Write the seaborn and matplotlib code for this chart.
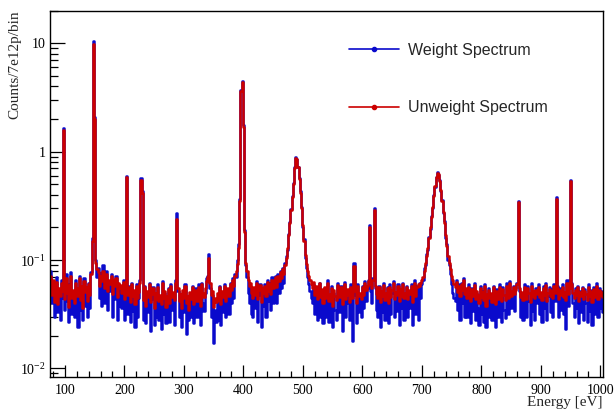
import numpy as np
import pandas as pd
import seaborn as sns
import matplotlib
matplotlib.use("Agg")
import matplotlib.pyplot as plt
from matplotlib.lines import Line2D
from matplotlib.ticker import FixedLocator, MultipleLocator, LogLocator, NullFormatter

# histogram: 2 eV bins from 75 to 1005 eV, contents in units of 1e-3 counts/7e12p/bin
bin_lo = 75
bin_width = 2

# Unweight spectrum (red), 10 bins per row = 20 eV per row
unweight = [
    72, 48, 66, 41, 58, 63, 39, 55, 47, 61,          # 75
    52, 1600, 44, 68, 50, 37, 59, 71, 45, 53,        # 95
    40, 62, 55, 47, 69, 43, 58, 36, 64, 51,          # 115
    57, 42, 60, 48, 75, 150, 9800, 2000, 95, 82,     # 135
    78, 58, 72, 64, 80, 55, 69, 74, 52, 66,          # 155
    60, 71, 49, 65, 58, 68, 46, 62, 55, 59,          # 175
    50, 63, 44, 57, 580, 48, 56, 41, 60, 47,         # 195
    53, 39, 58, 45, 51, 62, 550, 420, 43, 56,        # 215
    38, 52, 46, 60, 41, 49, 55, 36, 50, 44,          # 235
    57, 42, 48, 39, 61, 45, 52, 37, 47, 54,          # 255
    40, 58, 46, 51, 43, 62, 240, 55, 42, 49,         # 275
    36, 53, 45, 58, 40, 47, 35, 51, 44, 56,          # 295
    39, 48, 53, 42, 57, 45, 38, 60, 50, 46,          # 315
    55, 64, 70, 105, 62, 48, 52, 37, 45, 41,         # 335
    50, 43, 56, 39, 52, 46, 58, 42, 49, 55,          # 355
    47, 60, 53, 66, 58, 72, 80, 92, 130, 350,        # 375
    3600, 4400, 1700, 180, 95, 80, 66, 58, 62, 50,   # 395
    45, 57, 48, 62, 44, 53, 59, 41, 55, 50,          # 415
    58, 47, 63, 52, 60, 49, 66, 55, 61, 70,          # 435
    56, 72, 64, 78, 68, 82, 75, 90, 105, 130,        # 455
    170, 220, 290, 380, 500, 700, 880, 850, 720, 560,  # 475
    420, 300, 210, 150, 112, 92, 80, 72, 66, 60,     # 495
    55, 63, 48, 58, 44, 52, 61, 46, 54, 40,          # 515
    57, 45, 51, 62, 42, 49, 55, 38, 53, 47,          # 535
    43, 59, 50, 46, 56, 39, 52, 60, 44, 48,          # 555
    54, 41, 57, 49, 45, 89, 52, 40, 58, 47,          # 575
    50, 44, 56, 48, 61, 53, 58, 64, 200, 60,         # 595
    55, 66, 290, 58, 49, 45, 56, 41, 52, 47,         # 615
    59, 43, 50, 55, 40, 57, 46, 53, 61, 44,          # 635
    51, 48, 58, 42, 54, 47, 60, 45, 50, 56,          # 655
    44, 53, 49, 58, 41, 55, 62, 47, 57, 60,          # 675
    58, 62, 65, 70, 80, 95, 110, 130, 160, 200,      # 695
    250, 310, 390, 480, 580, 640, 620, 540, 440, 350,  # 715
    280, 220, 170, 135, 110, 95, 82, 72, 65, 60,     # 735
    56, 63, 51, 58, 47, 60, 53, 66, 49, 55,          # 755
    45, 57, 50, 42, 54, 47, 59, 44, 52, 48,          # 775
    40, 55, 46, 51, 43, 58, 38, 49, 53, 45,          # 795
    50, 41, 56, 47, 39, 52, 44, 57, 46, 42,          # 815
    54, 48, 43, 58, 50, 45, 61, 47, 52, 56,          # 835
    49, 53, 60, 340, 55, 46, 51, 43, 57, 48,         # 855
    44, 55, 50, 41, 58, 47, 52, 45, 53, 49,          # 875
    56, 46, 51, 43, 55, 48, 59, 42, 50, 54,          # 895
    47, 52, 45, 58, 50, 370, 55, 44, 53, 48,         # 915
    57, 46, 51, 43, 62, 49, 55, 540, 60, 50,         # 935
    45, 53, 48, 56, 42, 51, 47, 55, 44, 52,          # 955
    49, 43, 56, 47, 52, 41, 54, 46, 50, 58,          # 975
    44, 53, 48, 51, 46,                              # 995
]

# Weight spectrum (blue)
weight = [
    80, 40, 62, 30, 55, 70, 33, 50, 28, 66,
    45, 1650, 35, 75, 42, 27, 60, 78, 32, 48,
    30, 65, 48, 24, 72, 35, 55, 28, 68, 38,
    50, 30, 62, 36, 78, 160, 10500, 2100, 100, 70,
    85, 45, 76, 38, 90, 40, 70, 80, 35, 62,
    52, 74, 30, 66, 44, 72, 28, 60, 38, 55,
    36, 65, 28, 52, 600, 32, 58, 27, 62, 34,
    48, 24, 60, 30, 45, 66, 570, 430, 28, 58,
    26, 50, 33, 62, 22, 44, 57, 25, 47, 30,
    60, 28, 45, 23, 64, 32, 50, 26, 40, 55,
    27, 60, 35, 48, 25, 65, 270, 52, 30, 44,
    24, 50, 33, 60, 21, 42, 28, 48, 30, 58,
    26, 45, 55, 30, 60, 33, 25, 62, 40, 34,
    50, 68, 72, 115, 55, 30, 48, 17, 35, 27,
    45, 28, 58, 25, 47, 33, 60, 30, 44, 52,
    32, 62, 40, 68, 45, 75, 70, 100, 140, 370,
    3700, 4500, 1750, 190, 90, 70, 50, 40, 58, 32,
    30, 55, 36, 64, 27, 48, 60, 24, 52, 38,
    60, 30, 65, 42, 62, 35, 70, 40, 55, 72,
    40, 75, 50, 80, 55, 85, 62, 95, 110, 125,
    175, 225, 295, 390, 510, 720, 900, 860, 730, 570,
    430, 310, 200, 155, 105, 85, 70, 60, 52, 45,
    40, 60, 32, 55, 28, 48, 62, 30, 50, 26,
    55, 30, 46, 65, 27, 42, 58, 24, 50, 35,
    28, 62, 40, 33, 58, 22, 47, 63, 30, 40,
    50, 28, 60, 36, 18, 95, 48, 26, 60, 33,
    45, 30, 58, 36, 64, 42, 55, 66, 210, 52,
    40, 68, 300, 55, 35, 30, 58, 24, 47, 33,
    62, 28, 44, 56, 26, 60, 32, 50, 64, 30,
    46, 34, 60, 25, 52, 36, 62, 28, 45, 58,
    30, 50, 36, 60, 25, 54, 65, 32, 58, 28,
    62, 45, 60, 66, 85, 90, 115, 125, 165, 195,
    255, 300, 400, 470, 590, 650, 610, 550, 430, 360,
    270, 230, 160, 140, 100, 90, 75, 60, 50, 45,
    42, 66, 35, 60, 28, 62, 40, 68, 30, 52,
    30, 60, 40, 26, 55, 34, 62, 28, 50, 36,
    25, 58, 32, 52, 27, 60, 24, 46, 55, 30,
    48, 28, 58, 34, 24, 54, 30, 60, 36, 27,
    56, 35, 29, 62, 44, 32, 64, 36, 50, 58,
    34, 55, 62, 350, 52, 30, 48, 28, 60, 36,
    30, 58, 42, 25, 62, 34, 50, 28, 55, 40,
    60, 32, 50, 27, 58, 36, 62, 28, 47, 56,
    33, 54, 30, 60, 42, 380, 58, 30, 55, 35,
    60, 32, 50, 23, 66, 38, 56, 550, 62, 40,
    30, 55, 36, 58, 26, 52, 33, 57, 28, 54,
    40, 27, 60, 34, 53, 25, 56, 32, 48, 62,
    30, 55, 36, 52, 33,
]

x_ticks = [100, 200, 300, 400, 500, 600, 700, 800, 900, 1000]
y_ticks = [0.01, 0.1, 1, 10]
y_ticklabels = [r"$10^{-2}$", r"$10^{-1}$", "1", "10"]

sns.set_style("ticks")
plt.rcParams["font.family"] = ["Liberation Serif", "DejaVu Serif"]
plt.rcParams["mathtext.fontset"] = "custom"
plt.rcParams["mathtext.rm"] = "Liberation Serif"
plt.rcParams["mathtext.it"] = "Liberation Serif:italic"

blue = "#0a0acc"
red = "#cc0000"

df_w = pd.DataFrame({"energy": bin_lo + bin_width * (np.arange(len(weight)) + 0.5),
                     "counts": np.array(weight) / 1000.0})
df_u = pd.DataFrame({"energy": bin_lo + bin_width * (np.arange(len(unweight)) + 0.5),
                     "counts": np.array(unweight) / 1000.0})

fig = plt.figure(figsize=(6.15, 4.11), dpi=100)
ax = fig.add_axes([0.0813, 0.0835, 0.8987, 0.8905])

sns.lineplot(data=df_w, x="energy", y="counts", ax=ax, color=blue, lw=1.8,
             drawstyle="steps-mid", estimator=None, sort=False, legend=False)
sns.lineplot(data=df_u, x="energy", y="counts", ax=ax, color=red, lw=1.8,
             drawstyle="steps-mid", estimator=None, sort=False, legend=False)

ax.set_yscale("log")
ax.set_xlim(75, 1004)
ax.set_ylim(0.0084, 20)

ax.xaxis.set_major_locator(FixedLocator(x_ticks))
ax.set_xticklabels([str(t) for t in x_ticks])
ax.xaxis.set_minor_locator(MultipleLocator(20))
ax.yaxis.set_major_locator(FixedLocator(y_ticks))
ax.set_yticklabels(y_ticklabels)
ax.yaxis.set_minor_locator(LogLocator(base=10, subs=np.arange(2, 10)))
ax.yaxis.set_minor_formatter(NullFormatter())

ax.tick_params(axis="both", which="both", direction="in", top=False, right=False,
               colors="black", labelsize=10, width=0.9)
ax.tick_params(axis="x", which="major", length=8.5, pad=5)
ax.tick_params(axis="x", which="minor", length=4.3)
ax.tick_params(axis="y", which="major", length=10.8, pad=3)
ax.tick_params(axis="y", which="minor", length=5.8)
for s in ax.spines.values():
    s.set_visible(True)
    s.set_linewidth(1.0)
    s.set_color("black")

ax.set_xlabel("Energy [eV]", fontsize=11, loc="right")
ax.set_ylabel("Counts/7e12p/bin", fontsize=11, loc="top")
ax.xaxis.set_label_coords(1.0, -0.052)
ax.yaxis.set_label_coords(-0.052, 1.0)

handles = [Line2D([], [], color=blue, lw=1.2, marker="o", markersize=3),
           Line2D([], [], color=red, lw=1.2, marker="o", markersize=3)]
ax.legend(handles, ["Weight Spectrum", "Unweight Spectrum"], loc="upper left",
          bbox_to_anchor=(349 / 615, 1 - 43 / 411), bbox_transform=fig.transFigure,
          frameon=False, borderpad=0, borderaxespad=0, handlelength=3.1,
          handletextpad=0.6, labelspacing=2.65,
          prop={"family": ["Liberation Sans", "DejaVu Sans"], "size": 11.5})

fig.savefig("out.png", dpi=100)
